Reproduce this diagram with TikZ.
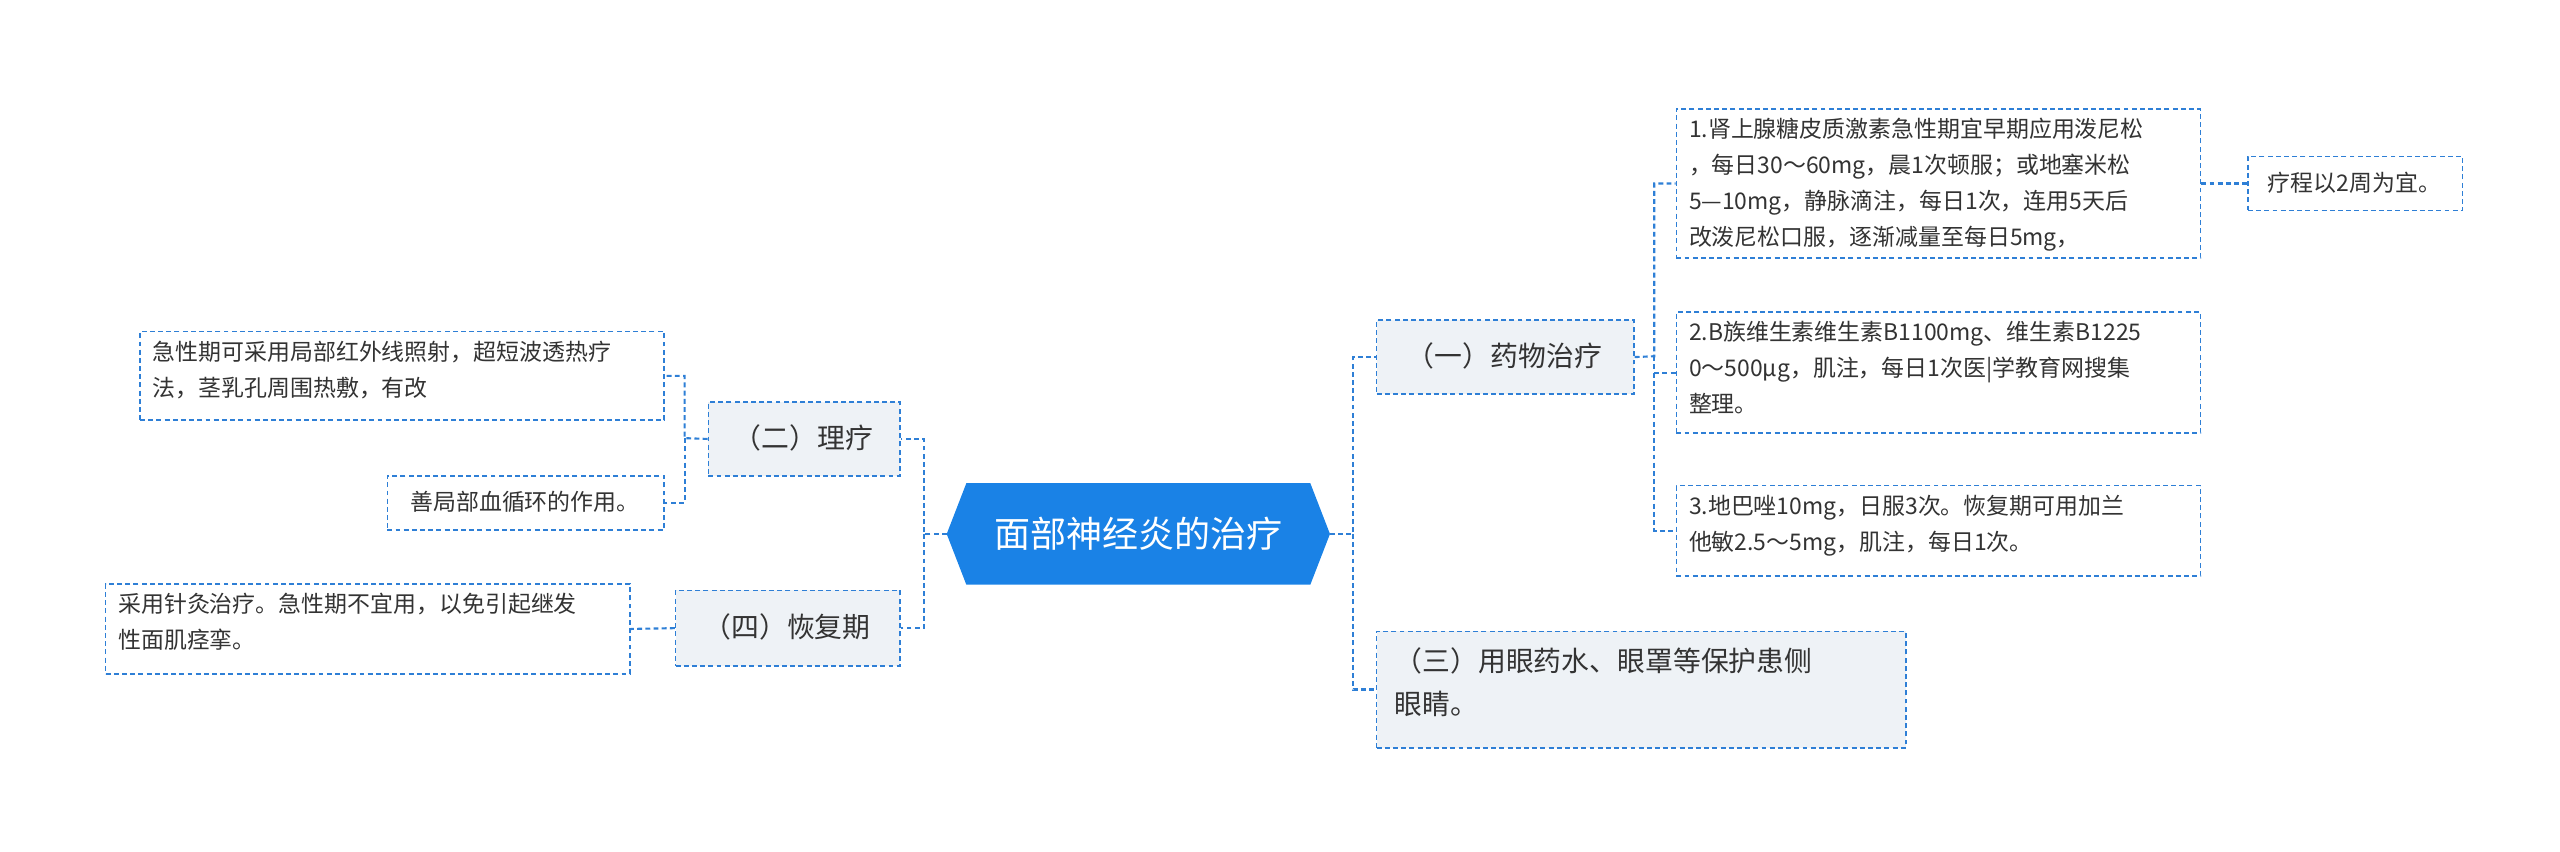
\documentclass[tikz,border=0pt]{standalone}
\usepackage{fontspec}
\setmainfont{Noto Sans CJK SC}
\definecolor{mblue}{HTML}{1A82E6}
\definecolor{lblue}{HTML}{2E7FD6}
\definecolor{bgfill}{HTML}{EEF2F6}
\definecolor{txt}{HTML}{333333}
\begin{document}
\begin{tikzpicture}[x=1pt,y=-1pt,
  conn/.style={draw=lblue,densely dashed,line width=1.3pt},
  mid/.style={draw=lblue,densely dashed,line width=1pt,fill=bgfill,text=txt,inner sep=0pt,font=\fontsize{17}{26}\selectfont,anchor=north west},
  leaf/.style={draw=lblue,densely dashed,line width=1pt,fill=white,text=txt,inner sep=0pt,font=\fontsize{14}{22}\selectfont,anchor=north west}]
\useasboundingbox (0,0) rectangle (1563,520);
% center
\fill[mblue] (590,295) -- (800,295) -- (812,326) -- (800,357) -- (590,357) -- (578,326) -- cycle;
\node[text=white,font=\fontsize{22}{26}\selectfont] (c) at (695,326) {面部神经炎的治疗};
\coordinate (cr) at (812,326);
\coordinate (cl) at (578,326);
% mid nodes
\node[mid,minimum width=157,minimum height=45] (n1) at (840,195) {};
\node[text=txt,font=\fontsize{17}{26}\selectfont] at (918.5,217.5) {（一）药物治疗};
\node[mid,minimum width=323,minimum height=71] (n3) at (840,385) {};
\node[text=txt,font=\fontsize{17}{26}\selectfont,align=left,anchor=north west] at (848,392) {（三）用眼药水、眼罩等保护患侧\\眼睛。};
\node[mid,minimum width=117,minimum height=45] (n2) at (432,245) {};
\node[text=txt,font=\fontsize{17}{26}\selectfont] at (490.5,267.5) {（二）理疗};
\node[mid,minimum width=137,minimum height=46] (n4) at (412,360) {};
\node[text=txt,font=\fontsize{17}{26}\selectfont] at (480.5,383) {（四）恢复期};
% leaves
\node[leaf,minimum width=320,minimum height=91] (l1) at (1023,66) {};
\node[text=txt,font=\fontsize{14}{22}\selectfont,align=left,anchor=north west,inner sep=0pt] at (1031,72) {1.肾上腺糖皮质激素急性期宜早期应用泼尼松\\，每日30～60mg，晨1次顿服；或地塞米松\\5—10mg，静脉滴注，每日1次，连用5天后\\改泼尼松口服，逐渐减量至每日5mg，};
\node[leaf,minimum width=131,minimum height=33] (l1a) at (1372,95) {};
\node[text=txt,font=\fontsize{14}{22}\selectfont] at (1437.5,111.5) {疗程以2周为宜。};
\node[leaf,minimum width=320,minimum height=74] (l2) at (1023,190) {};
\node[text=txt,font=\fontsize{14}{22}\selectfont,align=left,anchor=north west,inner sep=0pt] at (1031,196) {2.B族维生素维生素B1100mg、维生素B1225\\0～500μg，肌注，每日1次医|学教育网搜集\\整理。};
\node[leaf,minimum width=320,minimum height=55] (l3) at (1023,296) {};
\node[text=txt,font=\fontsize{14}{22}\selectfont,align=left,anchor=north west,inner sep=0pt] at (1031,302) {3.地巴唑10mg，日服3次。恢复期可用加兰\\他敏2.5～5mg，肌注，每日1次。};
\node[leaf,minimum width=320,minimum height=54] (r1) at (85,202) {};
\node[text=txt,font=\fontsize{14}{22}\selectfont,align=left,anchor=north west,inner sep=0pt] at (93,208) {急性期可采用局部红外线照射，超短波透热疗\\法，茎乳孔周围热敷，有改};
\node[leaf,minimum width=169,minimum height=33] (r2) at (236,290) {};
\node[text=txt,font=\fontsize{14}{22}\selectfont] at (320.5,306.5) {善局部血循环的作用。};
\node[leaf,minimum width=320,minimum height=55] (r3) at (64,356) {};
\node[text=txt,font=\fontsize{14}{22}\selectfont,align=left,anchor=north west,inner sep=0pt] at (72,362) {采用针灸治疗。急性期不宜用，以免引起继发\\性面肌痉挛。};
% connectors
\draw[conn] (cr) -- (826,326) |- (n1.west);
\draw[conn] (826,326) |- (n3.west);
\draw[conn] (n1.east) -- (1010,217.5) |- (l1.west);
\draw[conn] (1010,217.5) |- (l2.west);
\draw[conn] (1010,217.5) |- (l3.west);
\draw[conn] (l1.east) -- (l1a.west);
\draw[conn] (cl) -- (564,326) |- (n2.east);
\draw[conn] (564,326) |- (n4.east);
\draw[conn] (n2.west) -- (418,267.5) |- (r1.east);
\draw[conn] (418,267.5) |- (r2.east);
\draw[conn] (n4.west) -- (r3.east);
\end{tikzpicture}
\end{document}
